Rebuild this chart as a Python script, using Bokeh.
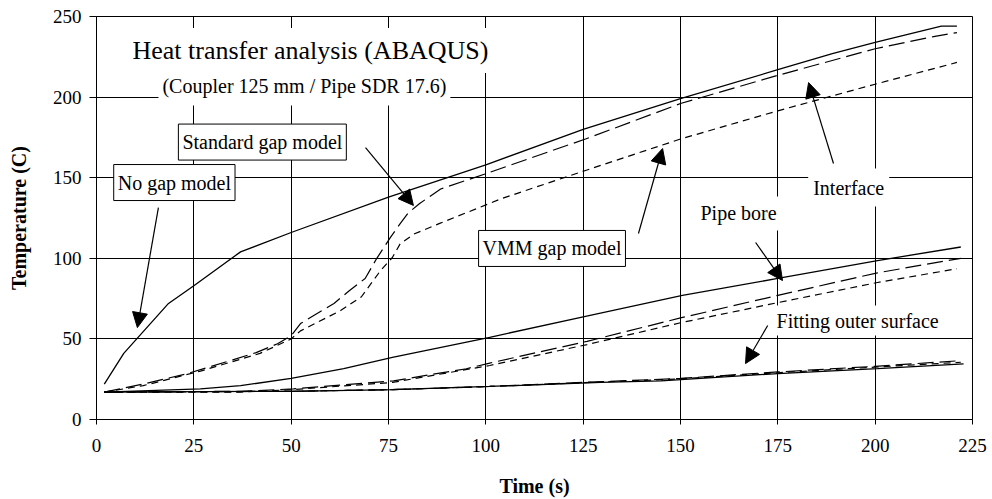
from bokeh.plotting import figure
from bokeh.models import Label, Arrow, NormalHead, FixedTicker, Range1d
from bokeh.embed import file_html
from bokeh.resources import INLINE

# ---- data (time in s, temperature in C) ----
x_ticks = [0, 25, 50, 75, 100, 125, 150, 175, 200, 225]
y_ticks = [0, 50, 100, 150, 200, 250]

# Interface
int_nogap_t = [2, 7, 18.5, 25, 37, 50, 75, 100, 125, 150, 175, 189, 200, 217, 221]
int_nogap_T = [22, 41, 72, 83, 104, 116, 138, 158, 180, 199, 217, 227, 234, 244, 244]

int_std_t = [2, 12, 23.4, 35, 41, 46.5, 50, 52.4, 61, 65, 69, 72, 75.5, 78, 80, 83, 88.4, 100, 125.6, 150, 175, 200, 215, 221]
int_std_T = [17, 22, 28.5, 37, 41.5, 47, 52, 59.5, 72, 80, 87.5, 100, 113, 121.5, 128, 134, 143, 152.5, 174, 196, 213.5, 230, 237.5, 240]

int_vmm_t = [2, 12, 26.7, 42, 50, 52.4, 62.7, 68, 73, 76, 78, 81.5, 88, 104, 125.6, 150, 175, 200, 221]
int_vmm_T = [17, 21, 30, 41, 50, 55, 67.6, 76, 92.5, 100.5, 109, 115, 121.5, 137, 154.5, 174, 191.5, 208, 221.5]

# Pipe bore
bore_nogap_t = [2, 26.7, 37, 50, 63.5, 76, 101, 125.6, 150.5, 175, 200.6, 222]
bore_nogap_T = [17, 19, 21, 25.5, 31.5, 38.5, 51, 64, 77, 87.5, 98.6, 107]

bore_std_t = [2, 37, 50.6, 76.3, 95, 101, 126, 150, 175, 200.6, 222]
bore_std_T = [17, 17.5, 19, 24, 31.5, 35, 48.5, 63, 77, 91, 100]

bore_vmm_t = [2, 37, 50, 76, 101, 126, 150, 175, 200.6, 221]
bore_vmm_T = [17, 17, 18.5, 23, 33.5, 46.5, 60, 72.5, 85, 93.5]

# Fitting outer surface
fit_nogap_t = [2, 50, 76, 101, 129.5, 145, 175, 200.6, 222.7]
fit_nogap_T = [17, 17.5, 18.5, 20.5, 23, 24, 28.5, 31.5, 34.5]

fit_std_t = [2, 50, 76, 101, 125, 150, 175, 200, 222]
fit_std_T = [17, 17.5, 18.5, 20.5, 23, 25.5, 29.5, 33, 36.5]

fit_vmm_t = [2, 50, 76, 101, 125, 150, 175, 200, 222]
fit_vmm_T = [17, 17.5, 18.5, 20.5, 22.8, 25.2, 29, 32.5, 35.5]

SERIF = "Liberation Serif"

p = figure(width=992, height=499, output_backend="svg", toolbar_location=None,
           x_range=Range1d(0, 225), y_range=Range1d(0, 250),
           min_border_left=96, min_border_right=20, min_border_top=16, min_border_bottom=80,
           background_fill_color="white", border_fill_color="white")

p.outline_line_color = "black"
p.outline_line_width = 1

for ax, ticks in ((p.xaxis[0], x_ticks), (p.yaxis[0], y_ticks)):
    ax.ticker = FixedTicker(ticks=ticks)
    ax.minor_tick_line_color = None
    ax.axis_line_color = "black"
    ax.major_tick_line_color = "black"
    ax.major_tick_in = 0
    ax.major_label_text_font = SERIF
    ax.major_label_text_font_size = "19px"
    ax.major_label_text_color = "black"
    ax.axis_label_text_font = SERIF
    ax.axis_label_text_font_size = "20px"
    ax.axis_label_text_font_style = "bold"
    ax.axis_label_text_color = "black"

p.xaxis.axis_label = "Time (s)"
p.yaxis.axis_label = "Temperature (C)"
p.xaxis.major_tick_out = 5
p.yaxis.major_tick_out = 7
p.xaxis.major_label_standoff = 14
p.yaxis.major_label_standoff = 8
p.xaxis.axis_label_standoff = 20
p.yaxis.axis_label_standoff = 20

p.xgrid.ticker = FixedTicker(ticks=x_ticks)
p.ygrid.ticker = FixedTicker(ticks=y_ticks)
for g in (p.xgrid[0], p.ygrid[0]):
    g.grid_line_color = "black"
    g.grid_line_width = 1
    g.grid_line_alpha = 1

SOLID_W = 1.3
LONG = "16 6"
SHORT = "7 5"

groups = [
    (int_nogap_t, int_nogap_T, int_std_t, int_std_T, int_vmm_t, int_vmm_T),
    (bore_nogap_t, bore_nogap_T, bore_std_t, bore_std_T, bore_vmm_t, bore_vmm_T),
    (fit_nogap_t, fit_nogap_T, fit_std_t, fit_std_T, fit_vmm_t, fit_vmm_T),
]
for a_t, a_T, b_t, b_T, c_t, c_T in groups:
    p.line(a_t, a_T, line_color="black", line_width=SOLID_W)
    p.line(b_t, b_T, line_color="black", line_width=1.2, line_dash=LONG)
    p.line(c_t, c_T, line_color="black", line_width=1.2, line_dash=SHORT)

# ---- annotations (positions in data units) ----
def add_label(x, y, text, size="20px", border=True, align="center", pad=(4, 7)):
    lab = Label(x=x, y=y, text=text, text_font=SERIF, text_font_size=size,
                text_color="black", text_align=align, text_baseline="middle",
                background_fill_color="white", background_fill_alpha=1.0,
                border_line_color="black" if border else None, border_line_width=1,
                padding=pad)
    p.add_layout(lab)

add_label(7.96, 228.9, "Heat transfer analysis (ABAQUS)", size="26px", border=False, align="left", pad=(5, 8))
add_label(53.4, 206.6, "(Coupler 125 mm / Pipe SDR 17.6)", size="20px", border=False, pad=(4, 8))
add_label(42.6, 172.1, "Standard gap model")
add_label(20.0, 147.0, "No gap model")
add_label(117.0, 106.1, "VMM gap model")
add_label(193.2, 143.9, "Interface", border=False, pad=(5, 8))
add_label(164.9, 127.8, "Pipe bore", border=False, pad=(5, 6))
add_label(195.5, 61.4, "Fitting outer surface", border=False, pad=(5, 4))

arrows = [
    (15.9, 131.5, 10.5, 57.0),     # No gap
    (69.1, 168.7, 81.4, 132.8),    # Standard gap
    (139.2, 115.4, 145.4, 168.1),  # VMM
    (189.3, 158.8, 182.9, 209.0),  # Interface
    (169.3, 109.8, 176.2, 86.2),   # Pipe bore
    (172.4, 58.3, 166.7, 34.7),    # Fitting outer surface
]
for xs, ys, xe, ye in arrows:
    p.add_layout(Arrow(x_start=xs, y_start=ys, x_end=xe, y_end=ye,
                       line_color="black", line_width=1.2,
                       end=NormalHead(size=15, fill_color="black", line_color="black")))

open("out.html", "w").write(file_html(p, INLINE))
